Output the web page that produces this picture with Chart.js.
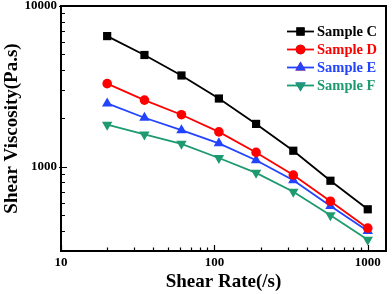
<!DOCTYPE html>
<html>
<head>
<meta charset="utf-8">
<script src="https://cdn.jsdelivr.net/npm/chart.js@4/dist/chart.umd.min.js"></script>
<style>
  html, body { margin: 0; padding: 0; background: #fff; }
  #wrap { width: 392px; height: 294px; }
</style>
</head>
<body>
<div id="wrap"><canvas id="grafico" width="392" height="294"></canvas></div>
<script>
// Dados
const taxaCisalhamento = [20, 35, 61, 107, 187, 327, 571, 1000];
const amostraC = [6500, 4960, 3700, 2660, 1850, 1260, 820, 545];
const amostraD = [3290, 2600, 2110, 1650, 1230, 890, 612, 416];
const amostraE = [2480, 2020, 1690, 1400, 1100, 825, 571, 399];
const amostraF = [1830, 1590, 1390, 1135, 918, 700, 500, 352];

const ticksX = [10, 100, 1000];
const ticksY = [1000, 10000];
const menoresX = [20, 30, 40, 50, 60, 70, 80, 90, 200, 300, 400, 500, 600, 700, 800, 900];
const menoresY = [400, 500, 600, 700, 800, 900, 2000, 3000, 4000, 5000, 6000, 7000, 8000, 9000];

const FONTE = 'Liberation Serif, Times New Roman, serif';

const SERIES = [
  { nome: 'Sample C', dados: amostraC, cor: '#000000', estilo: 'rect', raio: 5.8, rot: 0 },
  { nome: 'Sample D', dados: amostraD, cor: '#ff0000', estilo: 'circle', raio: 4.8, rot: 0 },
  { nome: 'Sample E', dados: amostraE, cor: '#2244ff', estilo: 'triangle', raio: 6, rot: 0 },
  { nome: 'Sample F', dados: amostraF, cor: '#1d9a70', estilo: 'triangle', raio: 6, rot: 180 }
];

/**
 * Moldura, marcas internas e legenda
 */
const molduraPlugin = {
  id: 'moldura',
  afterDraw(chart) {
    const { ctx, chartArea: a, scales: { x, y } } = chart;
    ctx.save();
    ctx.strokeStyle = '#000';
    ctx.lineWidth = 2;
    ctx.strokeRect(a.left, a.top, a.right - a.left, a.bottom - a.top);

    ctx.lineWidth = 1.2;
    ctx.beginPath();
    ticksX.forEach(v => {
      const px = Math.round(x.getPixelForValue(v)) + 0.5;
      ctx.moveTo(px, a.bottom); ctx.lineTo(px, a.bottom - 6);
    });
    menoresX.forEach(v => {
      const px = Math.round(x.getPixelForValue(v)) + 0.5;
      ctx.moveTo(px, a.bottom); ctx.lineTo(px, a.bottom - 3.5);
    });
    ticksY.forEach(v => {
      const py = Math.round(y.getPixelForValue(v)) + 0.5;
      ctx.moveTo(a.left - 2, py); ctx.lineTo(a.left + 6, py);
    });
    menoresY.forEach(v => {
      const py = Math.round(y.getPixelForValue(v)) + 0.5;
      ctx.moveTo(a.left, py); ctx.lineTo(a.left + 4, py);
    });
    ctx.stroke();

    // legenda
    const x0 = 287, x1 = 314, yTop = 31.5, passo = 18;
    ctx.font = 'bold 14.5px ' + FONTE;
    ctx.textBaseline = 'middle';
    ctx.textAlign = 'left';
    SERIES.forEach((s, i) => {
      const yy = yTop + i * passo;
      ctx.strokeStyle = s.cor;
      ctx.lineWidth = 1.8;
      ctx.beginPath();
      ctx.moveTo(x0, yy); ctx.lineTo(x1, yy);
      ctx.stroke();
      Chart.helpers.drawPoint(ctx, {
        pointStyle: s.estilo, radius: s.raio, rotation: s.rot, borderWidth: 0
      }, (x0 + x1) / 2, yy);
      ctx.fillStyle = s.cor;
      ctx.fill();
      ctx.fillText(s.nome, 317, yy + 1);
    });
    ctx.restore();
  }
};

const datasets = SERIES.map(s => ({
  label: s.nome,
  data: taxaCisalhamento.map((x, i) => ({ x, y: s.dados[i] })),
  borderColor: s.cor,
  backgroundColor: s.cor,
  borderWidth: 1.8,
  pointStyle: s.estilo,
  pointRadius: s.raio,
  pointRotation: s.rot,
  pointBorderWidth: 0,
  showLine: true,
  fill: false,
  tension: 0
}));

new Chart(document.getElementById('grafico').getContext('2d'), {
  type: 'scatter',
  data: { datasets },
  plugins: [molduraPlugin],
  options: {
    responsive: false,
    animation: false,
    devicePixelRatio: 1,
    layout: { padding: { top: 6, right: 2, left: 0, bottom: 0 } },
    plugins: { legend: { display: false }, tooltip: { enabled: false } },
    scales: {
      x: {
        type: 'logarithmic',
        min: 10,
        max: 1315,
        grid: { display: false, drawTicks: false },
        border: { display: false },
        afterBuildTicks: sc => { sc.ticks = ticksX.map(v => ({ value: v })); },
        afterFit: sc => { sc.height = 43; sc.paddingLeft = 0; sc.paddingRight = 0; },
        ticks: {
          autoSkip: false,
          maxRotation: 0,
          padding: 4,
          color: '#000',
          font: { family: FONTE, size: 13, weight: 'bold' },
          callback: v => String(v)
        },
        title: {
          display: true,
          text: 'Shear Rate(/s)',
          color: '#000',
          padding: { top: 0, bottom: 1 },
          font: { family: FONTE, size: 19, weight: 'bold' }
        }
      },
      y: {
        type: 'logarithmic',
        min: 300,
        max: 10000,
        grid: { display: false, drawTicks: false },
        border: { display: false },
        afterBuildTicks: sc => { sc.ticks = ticksY.map(v => ({ value: v })); },
        afterFit: sc => { sc.width = 61; sc.paddingTop = 0; sc.paddingBottom = 0; },
        ticks: {
          autoSkip: false,
          padding: 4,
          color: '#000',
          font: { family: FONTE, size: 13, weight: 'bold' },
          callback: v => String(v)
        },
        title: {
          display: true,
          text: 'Shear Viscosity(Pa.s)',
          color: '#000',
          padding: { top: 0.5, bottom: 0 },
          font: { family: FONTE, size: 19, weight: 'bold' }
        }
      }
    }
  }
});
</script>
</body>
</html>
